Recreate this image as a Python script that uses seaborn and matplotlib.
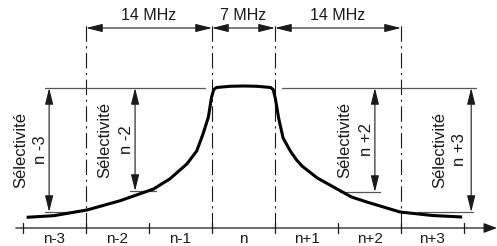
import numpy as np
import pandas as pd
import matplotlib
matplotlib.use("Agg")
import matplotlib.pyplot as plt
import seaborn as sns

# --------------------------
# Chart data (frequency offset in MHz from channel n, level in arbitrary units)
# --------------------------
channel_labels = ["n-3", "n-2", "n-1", "n", "n+1", "n+2", "n+3"]
channel_centers = [-21, -14, -7, 0, 7, 14, 21]
channel_edges = [-24.5, -17.5, -10.5, -3.5, 3.5, 10.5, 17.5, 24.5]

curve_mhz = [-24.1, -21.1, -17.4, -13.7, -10.0, -8.2, -6.3, -5.2, -4.5, -3.9, -3.55, -3.3,
             -3.0, -1.5, 0.0, 1.5, 3.0,
             3.3, 3.55, 3.9, 4.4, 5.2, 5.9, 6.5, 8.2, 10.2, 12.0, 13.7, 17.4, 21.0, 24.3]
curve_level = [10.7, 12.3, 18, 27.3, 39, 49, 64, 77, 94, 111, 131, 138.5,
               140.5, 141.7, 142, 141.7, 140.5,
               138.5, 129, 110, 90, 77, 68, 62, 50, 40, 31, 26, 16, 12.5, 11]

span_labels = ["14 MHz", "7 MHz", "14 MHz"]
span_edges = [-17.5, -3.5, 3.5, 17.5]

ref_level = 140
sel_labels = ["n -3", "n -2", "n +2", "n +3"]
sel_x = [-21.6, -12.05, 14.6, 25.3]
sel_level = [16, 37, 36, 16]
sel_ledge_from = [-22.05, -12.6, 10.7, 19.4]
sel_ledge_to = [-18.9, -9.7, 15.2, 25.5]
sel_text_x = [-24.8, -15.4, 11.3, 21.8]
sel_n_x = [-22.6, -12.95, 13.7, 24.05]
sel_text_y = [78, 88, 88, 78]

# --------------------------
# Figure
# --------------------------
sns.set_style("white")
plt.rcParams["font.family"] = ["Liberation Sans", "DejaVu Sans"]

fig = plt.figure(figsize=(4.97, 2.46), dpi=100)
ax = fig.add_axes([0, 0, 1, 1])

ink = "#1a1a1a"
grey = "#555555"
fs = 11.5

# frequency axis with arrow
ax.annotate("", xy=(28.17, 0), xytext=(-25.3, 0),
            arrowprops=dict(arrowstyle="-|>,head_length=0.8,head_width=0.3",
                            color=ink, lw=0.9, shrinkA=0, shrinkB=0, mutation_scale=10))
for e in channel_edges:
    ax.plot([e, e], [-5, 5], color=ink, lw=0.9)
for c, lab in zip(channel_centers, channel_labels):
    ax.text(c, -17.6, lab, ha="center", va="bottom", fontsize=fs - 0.5, color=ink)

# dash-dot extension lines
for e in span_edges:
    ax.plot([e, e], [0, 203], color=ink, lw=0.8, linestyle=(0, (14, 4, 2, 4)))

# dimension arrows
for a, b, lab in zip(span_edges[:-1], span_edges[1:], span_labels):
    ax.annotate("", xy=(b, 200), xytext=(a, 200),
                arrowprops=dict(arrowstyle="<|-|>,head_length=1.0,head_width=0.25",
                                color=ink, lw=0.8, shrinkA=0, shrinkB=0, mutation_scale=10))
    ax.text((a + b) / 2, 213, lab, ha="center", va="center", fontsize=fs, color=ink)

# reference level line
ax.plot([-22.05, -4.3], [ref_level, ref_level], color=grey, lw=0.9)
ax.plot([4.3, 25.8], [ref_level, ref_level], color=grey, lw=0.9)

# selectivity arrows
for i in range(len(sel_labels)):
    ax.plot([sel_ledge_from[i], sel_ledge_to[i]], [sel_level[i], sel_level[i]], color=grey, lw=0.9)
    ax.annotate("", xy=(sel_x[i], sel_level[i]), xytext=(sel_x[i], ref_level),
                arrowprops=dict(arrowstyle="<|-|>,head_length=1.0,head_width=0.25",
                                color=ink, lw=0.8, shrinkA=0, shrinkB=0, mutation_scale=10))
    ax.text(sel_text_x[i], sel_text_y[i], "Sélectivité", rotation=90, ha="center", va="center",
            fontsize=fs + 0.5, color=ink)
    ax.text(sel_n_x[i], sel_text_y[i], sel_labels[i], rotation=90, ha="center", va="center",
            fontsize=fs + 0.5, color=ink)

# response curve
df_curve = pd.DataFrame({"mhz": curve_mhz, "level": curve_level})
sns.lineplot(data=df_curve, x="mhz", y="level", sort=False, color="black", lw=2.2, ax=ax,
             solid_capstyle="butt", solid_joinstyle="round")

ax.set_xlim(-27.06, 28.17)
ax.set_ylim(-18, 228)
ax.axis("off")

fig.savefig("out.png", dpi=100)
